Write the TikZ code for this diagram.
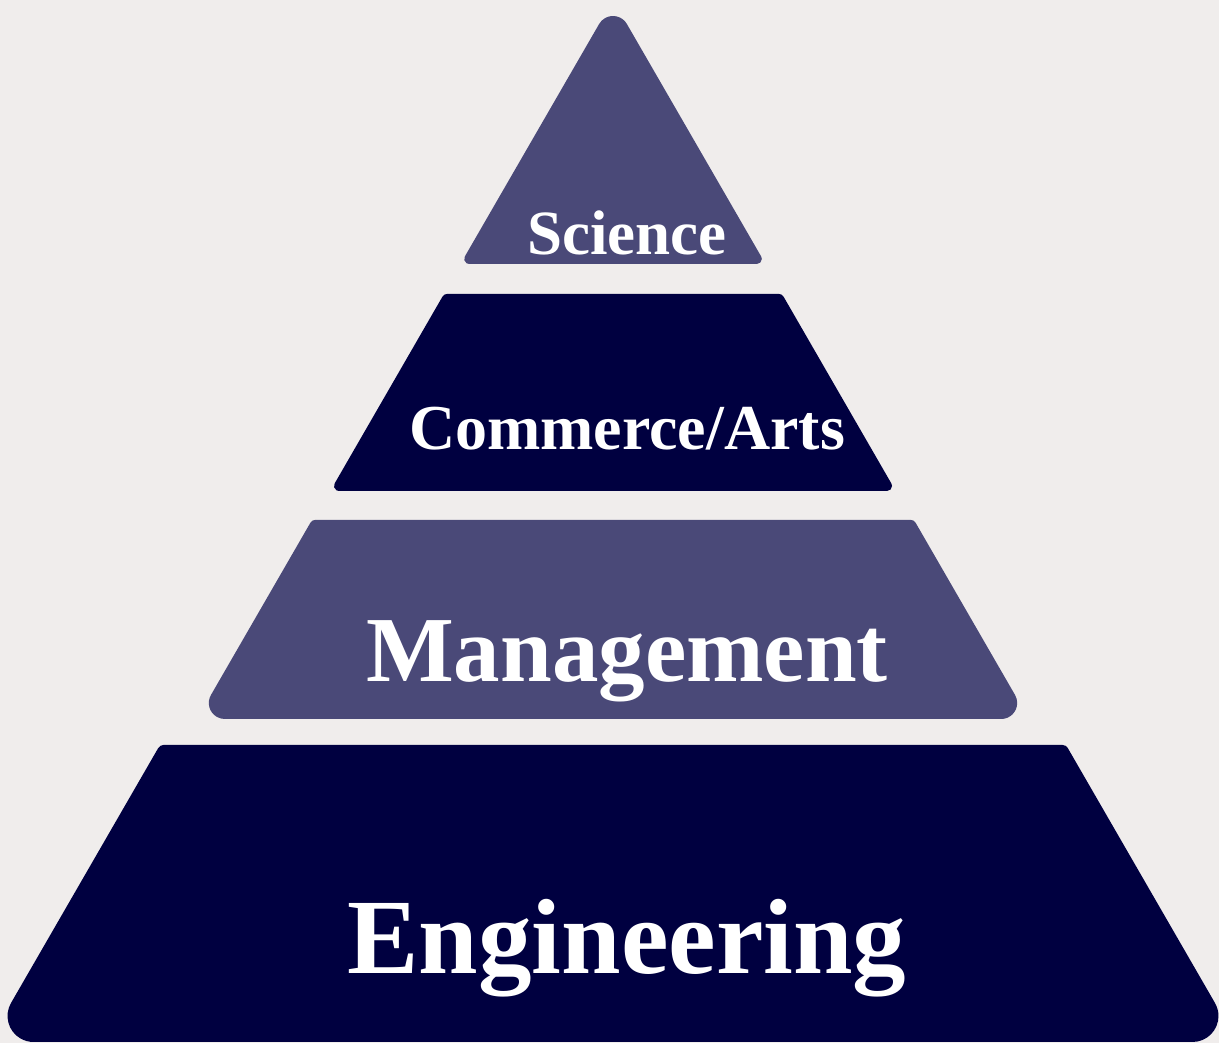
\documentclass[tikz,border=0pt]{standalone}
\usepackage{fontspec}
\setmainfont{Liberation Serif}
\definecolor{bgcol}{RGB}{240,237,236}
\definecolor{lightlayer}{RGB}{74,73,120}
\definecolor{darklayer}{RGB}{0,0,64}
% #1 cx, #2 half-top, #3 half-bottom, #4 Ytop, #5 Ybottom, #6 r top, #7 r bottom, #8 colour
\newcommand\pyrtrap[8]{%
  \fill[#8] ({#1-#3+0.866*#7},{#5+1.5*#7}) arc[start angle=150,end angle=270,radius=#7pt]
    -- ({#1+#3-1.732*#7},{#5}) arc[start angle=-90,end angle=30,radius=#7pt]
    -- ({#1+#2+0.2887*#6},{#4-0.5*#6}) arc[start angle=30,end angle=90,radius=#6pt]
    -- ({#1-#2+0.577*#6},{#4}) arc[start angle=90,end angle=150,radius=#6pt]
    -- cycle;}
% #1 cx, #2 half-base, #3 Ybase, #4 Yapex, #5 r base, #6 r apex, #7 colour
\newcommand\pyrtri[7]{%
  \fill[#7] ({#1-#2+0.866*#5},{#3+1.5*#5}) arc[start angle=150,end angle=270,radius=#5pt]
    -- ({#1+#2-1.732*#5},{#3}) arc[start angle=-90,end angle=30,radius=#5pt]
    -- ({#1+0.866*#6},{#4-1.5*#6}) arc[start angle=30,end angle=150,radius=#6pt]
    -- cycle;}
\tikzset{layerlabel/.style={text=white,inner sep=0pt,anchor=base,font=\bfseries}}
\begin{document}
\begin{tikzpicture}[x=1pt,y=1pt]
  \fill[bgcol] (0,0) rectangle (1219,1043);
  \useasboundingbox (0,0) rectangle (1219,1043);
  % layers
  \pyrtri{613}{152.5}{779}{1043}{5}{16}{lightlayer}
  \pyrtrap{613}{169}{282.7}{749}{552}{5}{5}{darklayer}
  \pyrtrap{613}{301}{415.9}{523}{324}{5}{16}{lightlayer}
  \pyrtrap{613}{453}{624.5}{298}{1}{6}{26}{darklayer}
  % labels
  \node[layerlabel,font=\fontsize{63}{70}\selectfont\bfseries] (science) at (627,788) {Science};
  \node[layerlabel,font=\fontsize{64}{70}\selectfont\bfseries] (commerce) at (627,593) {Commerce/Arts};
  \node[layerlabel,font=\fontsize{93}{100}\selectfont\bfseries] (management) at (627,361) {Management};
  \node[layerlabel,font=\fontsize{107}{110}\selectfont\bfseries] (engineering) at (627,69) {Engineering};
\end{tikzpicture}
\end{document}
